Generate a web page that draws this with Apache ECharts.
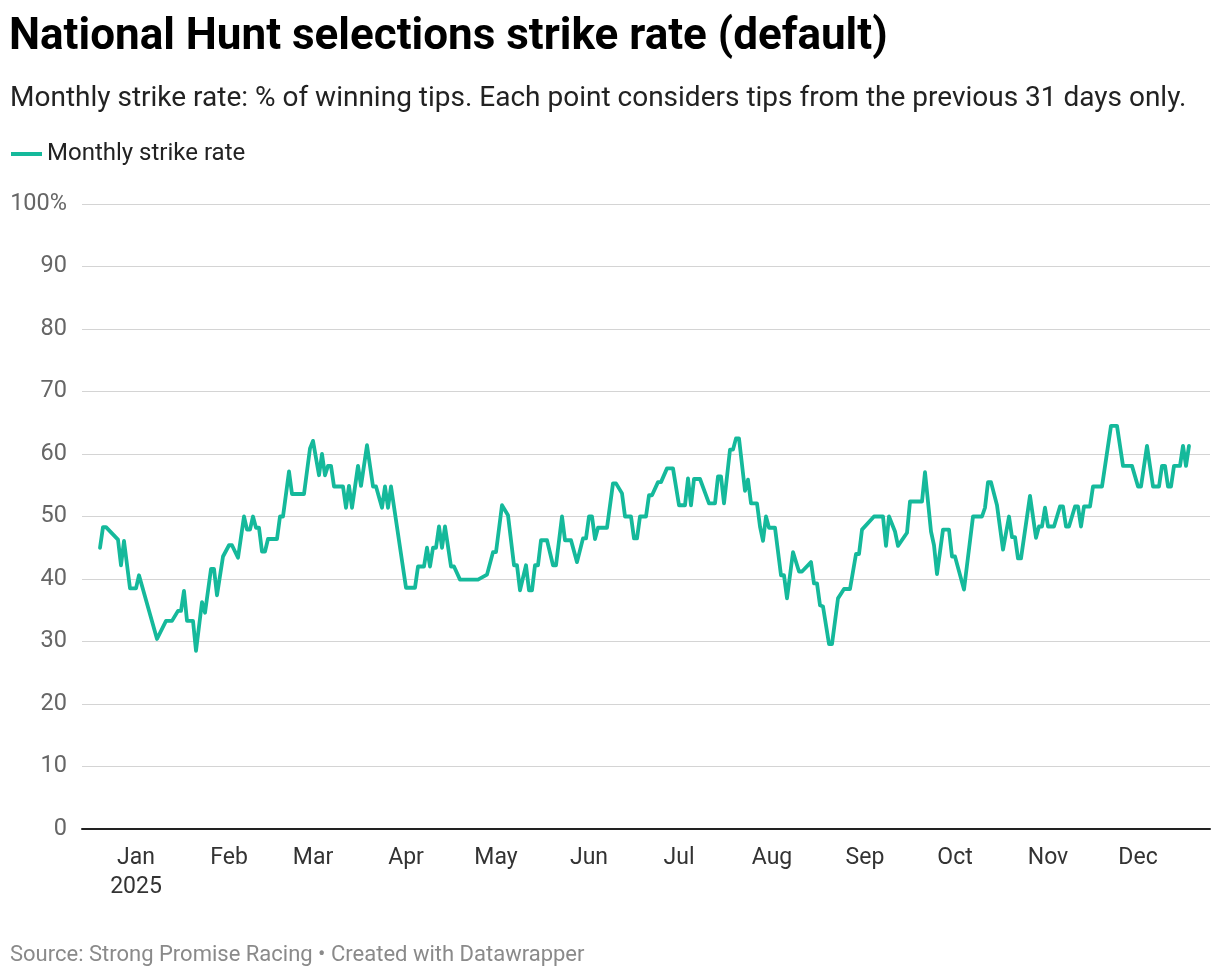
<!DOCTYPE html>
<html>
<head>
<meta charset="utf-8">
<script src="https://cdn.jsdelivr.net/npm/echarts@6/dist/echarts.min.js"></script>
<style>
  html, body { margin: 0; padding: 0; background: #fff; }
  #chart { width: 1220px; height: 976px; }
</style>
</head>
<body>
<div id="chart"></div>
<script>
// ---- Data ----
const dates = [
  '2024-12-20','2024-12-21','2024-12-22','2024-12-26','2024-12-27','2024-12-28','2024-12-30',
  '2025-01-01','2025-01-02','2025-01-08','2025-01-11','2025-01-13','2025-01-15','2025-01-16','2025-01-17',
  '2025-01-18','2025-01-20','2025-01-21','2025-01-23','2025-01-24','2025-01-26','2025-01-27','2025-01-28','2025-01-30',
  '2025-02-01','2025-02-02','2025-02-04','2025-02-06','2025-02-07','2025-02-08','2025-02-09','2025-02-10','2025-02-11',
  '2025-02-12','2025-02-13','2025-02-14','2025-02-17','2025-02-18','2025-02-19','2025-02-21','2025-02-22','2025-02-26','2025-02-28',
  '2025-03-01','2025-03-03','2025-03-04','2025-03-05','2025-03-06','2025-03-07','2025-03-08','2025-03-11','2025-03-12',
  '2025-03-13','2025-03-14','2025-03-16','2025-03-17','2025-03-19','2025-03-21','2025-03-22','2025-03-24','2025-03-25',
  '2025-03-26','2025-03-27',
  '2025-04-01','2025-04-04','2025-04-05','2025-04-07','2025-04-08','2025-04-09','2025-04-10','2025-04-11','2025-04-12',
  '2025-04-13','2025-04-14','2025-04-16','2025-04-17','2025-04-19','2025-04-25','2025-04-28','2025-04-30',
  '2025-05-01','2025-05-03','2025-05-05','2025-05-07','2025-05-08','2025-05-09','2025-05-11','2025-05-12','2025-05-13',
  '2025-05-14','2025-05-15','2025-05-16','2025-05-18','2025-05-20','2025-05-21','2025-05-23','2025-05-24','2025-05-26',
  '2025-05-28','2025-05-30','2025-05-31',
  '2025-06-01','2025-06-02','2025-06-03','2025-06-04','2025-06-07','2025-06-09','2025-06-10','2025-06-12','2025-06-13',
  '2025-06-15','2025-06-16','2025-06-17','2025-06-18','2025-06-20','2025-06-21','2025-06-22','2025-06-24','2025-06-25',
  '2025-06-27','2025-06-29',
  '2025-07-01','2025-07-03','2025-07-04','2025-07-05','2025-07-06','2025-07-08','2025-07-11','2025-07-13','2025-07-14',
  '2025-07-15','2025-07-16','2025-07-18','2025-07-19','2025-07-20','2025-07-21','2025-07-23','2025-07-24','2025-07-25',
  '2025-07-27','2025-07-28','2025-07-29','2025-07-30','2025-07-31',
  '2025-08-02','2025-08-04','2025-08-05','2025-08-06','2025-08-08','2025-08-10','2025-08-11','2025-08-14','2025-08-15',
  '2025-08-16','2025-08-17','2025-08-18','2025-08-20','2025-08-21','2025-08-23','2025-08-25','2025-08-27','2025-08-29',
  '2025-08-30','2025-08-31',
  '2025-09-04','2025-09-07','2025-09-08','2025-09-09','2025-09-11','2025-09-12','2025-09-15','2025-09-16','2025-09-20',
  '2025-09-21','2025-09-23','2025-09-24','2025-09-25','2025-09-27','2025-09-29','2025-09-30',
  '2025-10-01','2025-10-04','2025-10-07','2025-10-10','2025-10-11','2025-10-12','2025-10-13','2025-10-15','2025-10-17',
  '2025-10-19','2025-10-20','2025-10-21','2025-10-22','2025-10-23','2025-10-26','2025-10-28','2025-10-29','2025-10-30','2025-10-31',
  '2025-11-01','2025-11-03','2025-11-05','2025-11-06','2025-11-07','2025-11-08','2025-11-10','2025-11-11','2025-11-12',
  '2025-11-13','2025-11-15','2025-11-16','2025-11-19','2025-11-22','2025-11-24','2025-11-26','2025-11-29',
  '2025-12-01','2025-12-02','2025-12-04','2025-12-06','2025-12-08','2025-12-09','2025-12-10','2025-12-11','2025-12-12',
  '2025-12-13','2025-12-15','2025-12-16','2025-12-17','2025-12-18'
];
const strikeRate = [
  45, 48.3, 48.3, 46.3, 42.2, 46.1, 38.5,
  38.5, 40.6, 30.4, 33.3, 33.3, 34.9, 34.9, 38.1,
  33.3, 33.3, 28.5, 36.3, 34.6, 41.6, 41.6, 37.4, 43.6,
  45.4, 45.4, 43.4, 50, 47.9, 47.9, 50, 48.2, 48.2,
  44.4, 44.4, 46.4, 46.4, 50, 50, 57.2, 53.6, 53.6, 60.9,
  62.1, 56.6, 60, 56.6, 58.1, 58.1, 54.8, 54.8, 51.4,
  54.9, 51.4, 58.1, 54.9, 61.4, 54.8, 54.8, 51.4, 54.8,
  51.4, 54.8,
  38.6, 38.6, 42, 42, 45, 42, 45, 45, 48.4,
  45, 48.4, 42, 42, 39.9, 39.9, 40.7, 44.3,
  44.3, 51.8, 50.2, 42.2, 42.2, 38.2, 42.2, 38.2, 38.2,
  42.2, 42.2, 46.2, 46.2, 42.2, 42.2, 50, 46.2, 46.2,
  42.7, 46.5, 46.5,
  50, 50, 46.4, 48.2, 48.2, 55.3, 55.3, 53.7, 50,
  50, 46.5, 46.5, 50, 50, 53.4, 53.4, 55.5, 55.5,
  57.7, 57.7,
  51.8, 51.8, 56.1, 51.8, 56, 56, 52.1, 52.1, 56.4,
  56.4, 52.1, 60.7, 60.7, 62.5, 62.5, 54.1, 55.9, 52.1,
  52.1, 48.4, 46.1, 50, 48.2,
  48.2, 40.6, 40.6, 36.9, 44.3, 41.2, 41.2, 42.7, 39.3,
  39.3, 35.8, 35.6, 29.6, 29.6, 36.9, 38.4, 38.4, 44,
  44, 47.9,
  50, 50, 45.3, 50, 47.6, 45.3, 47.4, 52.4, 52.4,
  57.1, 47.6, 45.4, 40.8, 47.9, 47.9, 43.6,
  43.6, 38.3, 50, 50, 51.4, 55.5, 55.5, 51.8, 44.7,
  50, 46.7, 46.7, 43.3, 43.3, 53.3, 46.6, 48.4, 48.4, 51.4,
  48.4, 48.4, 51.6, 51.6, 48.4, 48.4, 51.6, 51.6, 48.4,
  51.6, 51.6, 54.8, 54.8, 64.5, 64.5, 58.1, 58.1,
  54.8, 54.8, 61.3, 54.8, 54.8, 58.1, 58.1, 54.8, 54.8,
  58.1, 58.1, 61.3, 58.1, 61.3
];
const monthNames = ['Jan','Feb','Mar','Apr','May','Jun','Jul','Aug','Sep','Oct','Nov','Dec'];
const yTicks = [0, 10, 20, 30, 40, 50, 60, 70, 80, 90, 100];

const seriesData = dates.map((d, i) => [d, strikeRate[i]]);
const lineColor = '#15b99b';
const FONT = 'Roboto, "Noto Sans", sans-serif';

const chart = echarts.init(document.getElementById('chart'), null, { renderer: 'canvas' });
chart.setOption({
  backgroundColor: '#ffffff',
  animation: false,
  textStyle: { fontFamily: FONT },
  title: [
    {
      text: 'National Hunt selections strike rate (default)',
      left: 4, top: 11,
      textStyle: { fontFamily: FONT, fontSize: 44, fontWeight: 'bold', color: '#000' }
    },
    {
      text: 'Monthly strike rate: % of winning tips. Each point considers tips from the previous 31 days only.',
      left: 5, top: 80,
      textStyle: { fontFamily: FONT, fontSize: 28, fontWeight: 'normal', color: '#222' }
    },
    {
      text: 'Source: Strong Promise Racing \u2022 Created with Datawrapper',
      left: 5, top: 939,
      textStyle: { fontFamily: FONT, fontSize: 22, fontWeight: 'normal', color: '#8a8a8a' }
    }
  ],
  legend: {
    left: 6, top: 137,
    icon: 'rect',
    itemWidth: 31, itemHeight: 4,
    itemGap: 20,
    textStyle: { fontFamily: FONT, fontSize: 24, color: '#222' },
    data: [{ name: 'Monthly strike rate', itemStyle: { color: lineColor } }]
  },
  grid: { left: 82, right: 10, top: 204, bottom: 147, containLabel: false },
  xAxis: {
    type: 'time',
    min: '2024-12-14',
    max: '2025-12-25',
    splitNumber: 12,
    minInterval: 28 * 86400000,
    maxInterval: 31 * 86400000,
    axisLine: { show: true, lineStyle: { color: '#222', width: 2 } },
    axisTick: { show: false },
    splitLine: { show: false },
    axisLabel: {
      show: true,
      margin: 15,
      showMinLabel: false,
      showMaxLabel: false,
      hideOverlap: false,
      fontFamily: FONT,
      fontSize: 23,
      color: '#333',
      lineHeight: 29,
      formatter: function (value) {
        const d = new Date(value);
        if (d.getDate() !== 1) return '';
        const m = monthNames[d.getMonth()];
        return d.getMonth() === 0 ? m + '\n' + d.getFullYear() : m;
      }
    }
  },
  yAxis: {
    type: 'value',
    min: yTicks[0],
    max: yTicks[yTicks.length - 1],
    interval: 10,
    axisLine: { show: false },
    axisTick: { show: false },
    splitLine: { show: true, lineStyle: { color: '#d4d4d4', width: 1.2 } },
    axisLabel: {
      margin: 15,
      fontFamily: FONT,
      fontSize: 23.5,
      color: '#666',
      padding: [3, 0, 0, 0],
      formatter: function (v) { return v === 100 ? '100%' : String(v); }
    }
  },
  series: [{
    name: 'Monthly strike rate',
    type: 'line',
    data: seriesData,
    showSymbol: false,
    symbol: 'none',
    lineStyle: { color: lineColor, width: 3.8, join: 'round', cap: 'round' },
    itemStyle: { color: lineColor },
    z: 3
  }]
});
</script>
</body>
</html>
